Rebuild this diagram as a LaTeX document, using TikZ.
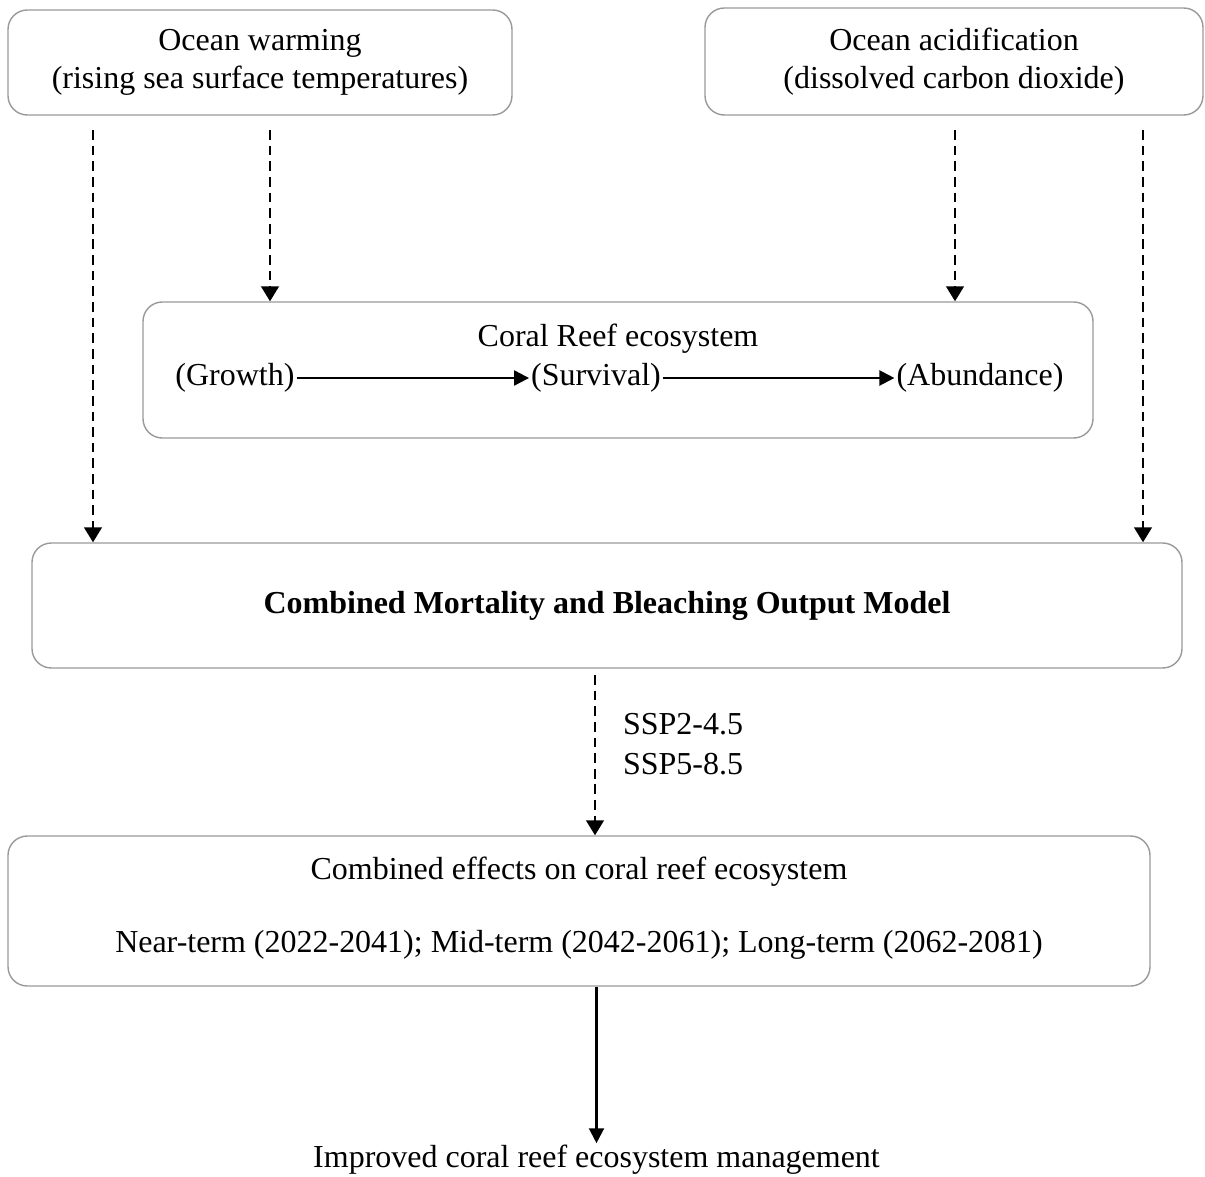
\documentclass[tikz,border=0pt]{standalone}
\usepackage{fontspec}
\setmainfont{Liberation Serif}
\usetikzlibrary{arrows.meta}

\tikzset{
  box/.style={draw=gray!80, line width=0.8pt, rounded corners=11pt, align=center, inner sep=0pt},
  dasharrow/.style={dashed, dash pattern=on 5.5pt off 3.4pt, line width=1.4pt, -{Triangle[length=8.5pt,width=10pt]}},
  solidarrow/.style={line width=1.3pt, -{Triangle[length=8.5pt,width=8.5pt]}},
  label/.style={inner sep=1pt}
}

\begin{document}
\begin{tikzpicture}[font=\fontsize{18.2}{21.5}\selectfont]
  \useasboundingbox (0, 0) rectangle (24.1, -23.52);

  % top drivers
  \node[box, minimum width=10.08cm, minimum height=2.1cm] (warm) at (5.2, -1.25)
    {Ocean warming\\(rising sea surface temperatures)};
  \node[box, minimum width=9.96cm, minimum height=2.14cm] (acid) at (19.08, -1.23)
    {Ocean acidification\\(dissolved carbon dioxide)};

  % coral reef box
  \node[box, minimum width=19.0cm, minimum height=2.72cm] (coral) at (12.36, -7.4) {};
  \node[label] (title) at (12.36, -6.78) {Coral Reef ecosystem};
  \node[label] (growth) at (4.7, -7.56) {(Growth)};
  \node[label] (survival) at (11.92, -7.56) {(Survival)};
  \node[label] (abund) at (19.6, -7.56) {(Abundance)};
  \draw[solidarrow] (growth) -- (survival);
  \draw[solidarrow] (survival) -- (abund);

  % model
  \node[box, minimum width=23.0cm, minimum height=2.5cm] (model) at (12.14, -12.11)
    {\textbf{Combined Mortality and Bleaching Output Model}};

  % effects
  \node[box, minimum width=22.84cm, minimum height=3.0cm] (effects) at (11.58, -18.22) {};
  \node[label] (eff1) at (11.58, -17.44) {Combined effects on coral reef ecosystem};
  \node[label] (eff2) at (11.58, -18.9) {Near-term (2022-2041); Mid-term (2042-2061); Long-term (2062-2081)};

  \node[label, anchor=west, align=left] (ssp) at (12.42, -14.88) {SSP2-4.5\\[1pt]SSP5-8.5};

  \node[label] (mgmt) at (11.93, -23.2) {Improved coral reef ecosystem management};

  % dashed links
  \coordinate (w1) at (1.86, -2.6);
  \coordinate (w2) at (5.4, -2.6);
  \coordinate (a1) at (19.1, -2.6);
  \coordinate (a2) at (22.86, -2.6);
  \coordinate (m1) at (11.9, -13.5);
  \draw[dasharrow] (w1) -- (w1 |- model.north);
  \draw[dasharrow] (w2) -- (w2 |- coral.north);
  \draw[dasharrow] (a1) -- (a1 |- coral.north);
  \draw[dasharrow] (a2) -- (a2 |- model.north);
  \draw[dasharrow] (m1) -- (m1 |- effects.north);

  \draw[solidarrow] (effects.south -| mgmt.north) -- (mgmt.north);
\end{tikzpicture}
\end{document}
